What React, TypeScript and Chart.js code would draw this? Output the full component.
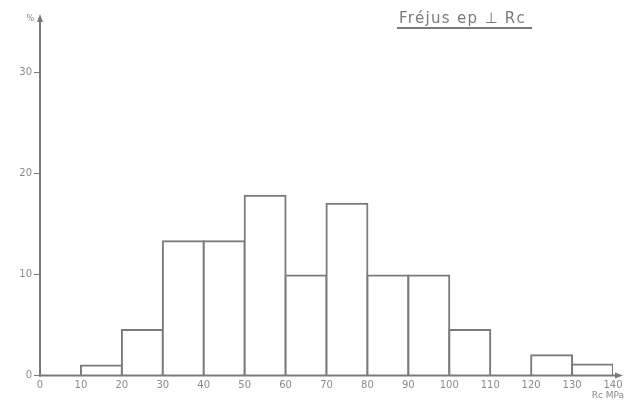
import React, { useEffect, useRef } from "react";
import { Chart, registerables } from "chart.js";

Chart.register(...registerables);

// Histogram bins (lower edge, MPa) and their share of samples (%)
const binStarts = [10, 20, 30, 40, 50, 60, 70, 80, 90, 100, 120, 130];
const binWidth = 10;
const percentages = [1.0, 4.5, 13.3, 13.3, 17.8, 9.9, 17.0, 9.9, 9.9, 4.5, 2.0, 1.1];

const xMin = 0;
const xMax = 140;
const xStep = 10;
const yMin = 0;
const yMax = 35.5;
const yStep = 10;

const titleText = "Fréjus ep ⊥ Rc";
const yUnitLabel = "%";
const xUnitLabel = "Rc MPa";

const INK = "#7a7a7a";
const TEXT = "#8a8a8a";
const FONT = "'DejaVu Sans', sans-serif";

// Axes with arrowheads, the unit labels and the underlined title
const decorations = {
  id: "decorations",
  afterDraw(chart: any) {
    const { ctx, scales } = chart;
    const xs = scales.x;
    const ys = scales.y;
    const x0 = xs.getPixelForValue(xMin);
    const y0 = ys.getPixelForValue(yMin);
    const yTop = ys.top - 3;
    const xEnd = xs.right + 10;

    ctx.save();
    ctx.strokeStyle = INK;
    ctx.fillStyle = INK;
    ctx.lineWidth = 2;

    // vertical axis
    ctx.beginPath();
    ctx.moveTo(x0, y0 + 1);
    ctx.lineTo(x0, yTop + 5);
    ctx.stroke();
    ctx.beginPath();
    ctx.moveTo(x0, yTop);
    ctx.lineTo(x0 - 3, yTop + 8);
    ctx.lineTo(x0 + 3, yTop + 8);
    ctx.closePath();
    ctx.fill();

    // horizontal axis
    ctx.beginPath();
    ctx.moveTo(x0 - 1, y0);
    ctx.lineTo(xEnd - 5, y0);
    ctx.stroke();
    ctx.beginPath();
    ctx.moveTo(xEnd, y0);
    ctx.lineTo(xEnd - 8, y0 - 3);
    ctx.lineTo(xEnd - 8, y0 + 3);
    ctx.closePath();
    ctx.fill();

    // unit labels
    ctx.fillStyle = TEXT;
    ctx.font = `8px ${FONT}`;
    ctx.textAlign = "right";
    ctx.textBaseline = "middle";
    ctx.fillText(yUnitLabel, x0 - 6, yTop + 5);
    ctx.font = `9px ${FONT}`;
    ctx.textAlign = "right";
    ctx.fillText(xUnitLabel, xEnd + 1, y0 + 20);

    // title with underline
    ctx.font = `15px ${FONT}`;
    (ctx as any).letterSpacing = "1.3px";
    ctx.textAlign = "left";
    ctx.textBaseline = "alphabetic";
    ctx.fillStyle = INK;
    const tx = 399;
    const ty = 23;
    ctx.fillText(titleText, tx, ty);
    const w = ctx.measureText(titleText).width;
    ctx.beginPath();
    ctx.lineWidth = 2;
    ctx.moveTo(tx - 2, ty + 5);
    ctx.lineTo(tx + w + 6, ty + 5);
    ctx.stroke();
    ctx.restore();
  },
};

export default function App() {
  const canvasRef = useRef<HTMLCanvasElement | null>(null);

  useEffect(() => {
    document.body.style.margin = "0";
    const canvas = canvasRef.current;
    if (!canvas) return;

    const points = binStarts.map((start, i) => ({
      x: start + binWidth / 2,
      y: percentages[i],
    }));

    const chart = new Chart(canvas, {
      type: "bar",
      data: {
        datasets: [
          {
            data: points as any,
            backgroundColor: "#ffffff",
            borderColor: INK,
            borderWidth: 2,
            borderSkipped: "start",
            inflateAmount: 1,
            barPercentage: 1,
            categoryPercentage: 1,
          } as any,
        ],
      },
      options: {
        animation: false,
        responsive: false,
        maintainAspectRatio: false,
        layout: { padding: { top: 17, right: 21, left: 0, bottom: 0 } },
        plugins: {
          legend: { display: false },
          title: { display: false },
          tooltip: { enabled: false },
        },
        scales: {
          x: {
            type: "linear",
            min: xMin,
            max: xMax,
            offset: false,
            border: { display: false },
            grid: { display: false, drawTicks: false, tickLength: 0, offset: false },
            ticks: {
              stepSize: xStep,
              autoSkip: false,
              maxRotation: 0,
              padding: 4,
              color: TEXT,
              font: { family: FONT, size: 10 },
            },
            afterFit: (scale: any) => {
              scale.height = 28.5;
            },
          },
          y: {
            type: "linear",
            min: yMin,
            max: yMax,
            border: { display: false },
            grid: {
              display: true,
              drawOnChartArea: false,
              drawTicks: true,
              tickLength: 6,
              color: INK,
              lineWidth: 1,
            },
            ticks: {
              stepSize: yStep,
              includeBounds: false,
              padding: 2,
              color: TEXT,
              font: { family: FONT, size: 10 },
            },
            afterFit: (scale: any) => {
              scale.width = 40;
            },
          },
        },
      },
      plugins: [decorations],
    });

    return () => chart.destroy();
  }, []);

  return (
    <div style={{ width: 634, height: 404 }}>
      <canvas ref={canvasRef} width={634} height={404} />
    </div>
  );
}
